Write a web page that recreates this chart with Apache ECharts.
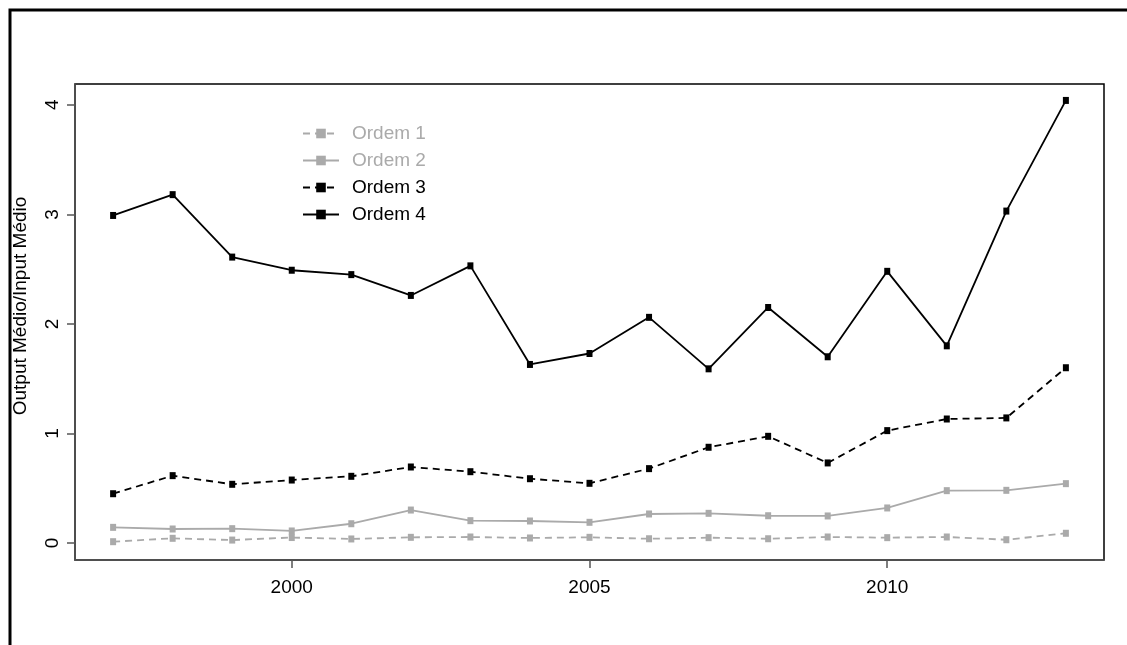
<!DOCTYPE html>
<html>
<head>
<meta charset="utf-8">
<script src="https://cdn.jsdelivr.net/npm/echarts@6/dist/echarts.min.js"></script>
<style>html,body{margin:0;padding:0;background:#fff}#c{width:1127px;height:645px}</style>
</head>
<body>
<div id="c"></div>
<script>
const years = [1997,1998,1999,2000,2001,2002,2003,2004,2005,2006,2007,2008,2009,2010,2011,2012,2013];
const ordem1 = [0.012,0.043,0.027,0.050,0.037,0.052,0.055,0.046,0.052,0.039,0.049,0.039,0.055,0.049,0.055,0.030,0.089];
const ordem2 = [0.143,0.128,0.131,0.110,0.176,0.301,0.204,0.201,0.189,0.265,0.271,0.249,0.247,0.320,0.478,0.481,0.542];
const ordem3 = [0.450,0.615,0.536,0.575,0.609,0.694,0.651,0.587,0.545,0.679,0.874,0.974,0.731,1.026,1.132,1.142,1.600];
const ordem4 = [2.99,3.18,2.61,2.49,2.45,2.26,2.53,1.63,1.73,2.06,1.59,2.15,1.70,2.48,1.80,3.03,4.04];
const xTicks = [2000,2005,2010];
const yTicks = [0,1,2,3,4];
const seriesNames = ['Ordem 1','Ordem 2','Ordem 3','Ordem 4'];
const yTitle = 'Output Médio/Input Médio';

const gray = '#aaaaaa';
const FONT = '"Liberation Sans", Arial, sans-serif';
const FS = 19;
const pair = arr => years.map((y,i)=>[y,arr[i]]);
function mk(name, data, color, dashed){
  return {
    name, type:'line', data: pair(data),
    symbol:'rect', symbolSize:[6,7],
    itemStyle:{color},
    lineStyle:{color, width:1.8, type: dashed ? [7,5] : 'solid'},
    emphasis:{disabled:true}, animation:false
  };
}
const chart = echarts.init(document.getElementById('c'));
chart.setOption({
  animation:false,
  backgroundColor:'#fff',
  textStyle:{fontFamily:FONT},
  graphic:[
    {type:'rect', shape:{x:10,y:10,width:1200,height:800}, style:{fill:null, stroke:'#000', lineWidth:3}, silent:true},
    {type:'text', x:21, y:306, rotation:Math.PI/2, silent:true,
     style:{text:yTitle, fill:'#000', font:FS+'px '+FONT, textAlign:'center', textVerticalAlign:'middle'}}
  ],
  grid:{left:75, top:84, right:23, bottom:85, show:true, borderColor:'#000', borderWidth:1.5},
  legend:{
    orient:'vertical', left:297, top:119, itemWidth:36, itemHeight:12, itemGap:8,
    textStyle:{fontSize:FS, fontFamily:FONT, padding:[0,0,0,8]},
    data:[
      {name:seriesNames[0], textStyle:{color:gray}},
      {name:seriesNames[1], textStyle:{color:gray}},
      {name:seriesNames[2], textStyle:{color:'#000'}},
      {name:seriesNames[3], textStyle:{color:'#000'}}
    ],
    selectedMode:false
  },
  xAxis:{
    type:'value', min:1996.36, max:2013.64,
    splitLine:{show:false},
    axisLine:{show:true, onZero:false, lineStyle:{color:'#555', width:1.5}},
    axisTick:{show:true, length:8, customValues:xTicks, lineStyle:{color:'#555', width:1.5}},
    axisLabel:{customValues:xTicks, formatter:v=>String(v), color:'#000', fontSize:FS, margin:18, fontFamily:FONT}
  },
  yAxis:{
    type:'value', min:-0.155, max:4.19,
    splitLine:{show:false},
    axisLine:{show:true, onZero:false, lineStyle:{color:'#555', width:1.5}},
    axisTick:{show:true, length:8, customValues:yTicks, lineStyle:{color:'#555', width:1.5}},
    axisLabel:{customValues:yTicks, formatter:v=>String(v), rotate:90, color:'#000', fontSize:FS, margin:13, fontFamily:FONT}
  },
  series:[
    mk(seriesNames[0], ordem1, gray, true),
    mk(seriesNames[1], ordem2, gray, false),
    mk(seriesNames[2], ordem3, '#000', true),
    mk(seriesNames[3], ordem4, '#000', false)
  ]
});
</script>
</body>
</html>
